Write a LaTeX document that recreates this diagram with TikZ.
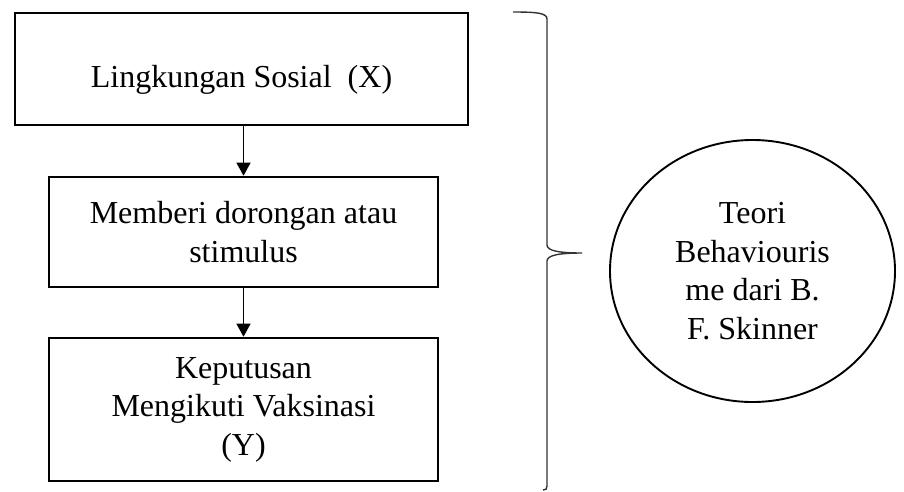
\documentclass[tikz,border=0pt]{standalone}
\usepackage{fontspec}
\setmainfont{Liberation Serif}
\usepackage{tikz}
\usetikzlibrary{arrows.meta,shapes.geometric}
\tikzset{
  kotak/.style={draw, line width=2.6pt, rectangle, inner sep=0pt, align=center,
    font=\fontsize{32}{38.5}\selectfont},
  panah/.style={line width=1.3pt, -{Triangle[width=14pt,length=13pt]}},
  teori/.style={draw, line width=1.9pt, ellipse, inner sep=0pt, align=center,
    minimum width=285pt, minimum height=262pt, font=\fontsize{32}{38.5}\selectfont},
}

\begin{document}
\begin{tikzpicture}[x=1pt,y=-1pt]
                \useasboundingbox (0,0) rectangle (904,491);
                \node[kotak, minimum width=453pt, minimum height=112pt, text height=36pt, text depth=0pt] (lingkungan) at (241.5,69) {Lingkungan Sosial\ \ (X)};
                \node[kotak, minimum width=389pt, minimum height=110pt] (dorongan) at (243.5,232) {Memberi dorongan atau\\stimulus};
                \node[kotak, minimum width=389pt, minimum height=143pt] (keputusan) at (243.5,409.5) {Keputusan\\Mengikuti Vaksinasi\\(Y)};
                \draw[panah] (dorongan.north |- lingkungan.south) -- (dorongan.north);
                \draw[panah] (dorongan.south) -- (keputusan.north);
                \coordinate (atas) at (513,12);
                \coordinate (ujung) at (582,253);
                \coordinate (bawah) at (543,490);
                \draw[line width=1.4pt, black!80] (atas) .. controls (537,12) and (547,13) .. (547,19) -- (547,245)
                    .. controls (547,251) and (560,253) .. (ujung)
                    .. controls (560,253) and (547,255) .. (547,261) -- (547,486)
                    .. controls (547,489) and (546,490) .. (bawah);
                \node[teori] (skinner) at (752.5,271) {Teori\\Behaviouris\\me dari B.\\F. Skinner};
            \end{tikzpicture}
\end{document}
